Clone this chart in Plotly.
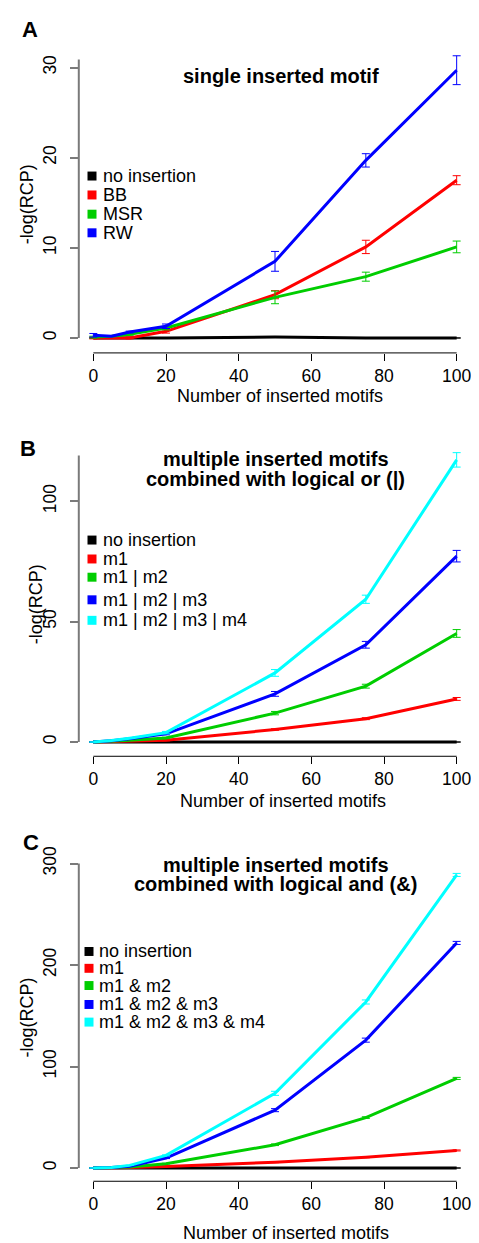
import plotly.graph_objects as go

# page body has an 8px margin: figure origin sits at (8, 8) in the window
OFF = 8
W, H = 471, 1235
FONT = "Liberation Sans, Arial, Helvetica, sans-serif"

x_vals = [0, 5, 10, 20, 50, 75, 100]
x_ticks = [0, 20, 40, 60, 80, 100]

# Panel A
a_names = ["no insertion", "BB", "MSR", "RW"]
a_none = [0, 0, 0, 0, 0.1, 0, 0]
a_bb = [0, 0, 0, 0.74, 4.8, 10.1, 17.5]
a_msr = [0.1, 0.2, 0.4, 1.1, 4.5, 6.8, 10.1]
a_rw = [0.3, 0.2, 0.66, 1.3, 8.5, 19.7, 29.7]
a_none_err = [None] * 7
a_bb_err = [0.1, None, 0.1, 0.2, 0.45, 0.74, 0.5]
a_msr_err = [0.1, None, 0.1, 0.2, 0.7, 0.5, 0.65]
a_rw_err = [0.2, None, 0.1, 0.25, 1.1, 0.74, 1.6]
a_yticks = [0, 10, 20, 30]

# Panel B
b_names = ["no insertion", "m1", "m1 | m2", "m1 | m2 | m3", "m1 | m2 | m3 | m4"]
b_none = [0, 0, 0, 0, 0, 0, 0]
b_m1 = [0, 0.1, 0.3, 0.7, 5.2, 9.7, 17.9]
b_m12 = [0, 0.3, 0.7, 1.7, 12.0, 23.2, 45.1]
b_m123 = [0, 0.5, 1.4, 3.4, 20.0, 40.4, 77.2]
b_m1234 = [0, 0.6, 1.6, 3.9, 28.7, 59.3, 117.2]
b_none_err = [None] * 7
b_m1_err = [None, None, None, 0.2, 0.3, 0.4, 0.6]
b_m12_err = [None, None, None, 0.3, 0.7, 0.8, 1.6]
b_m123_err = [None, None, None, 0.4, 1.0, 1.4, 2.4]
b_m1234_err = [None, None, None, 0.5, 1.4, 1.7, 3.0]
b_yticks = [0, 50, 100]

# Panel C
c_names = ["no insertion", "m1", "m1 & m2", "m1 & m2 & m3", "m1 & m2 & m3 & m4"]
c_none = [0, 0, 0, 0, 0, 0, 0]
c_m1 = [0, 0.1, 0.4, 1.6, 5.6, 10.5, 17.3]
c_m12 = [0, 0.3, 1.0, 4.3, 22.9, 49.7, 88.3]
c_m123 = [0, 0.4, 1.6, 9.8, 57.0, 126.0, 221.8]
c_m1234 = [0, 0.5, 2.6, 12.4, 73.6, 163.6, 288.8]
c_none_err = [None] * 7
c_m1_err = [None, None, None, 0.2, 0.3, 0.4, 0.5]
c_m12_err = [None, None, None, 0.3, 0.8, 0.8, 1.0]
c_m123_err = [None, None, None, 0.5, 1.5, 2.0, 1.5]
c_m1234_err = [None, None, None, 0.5, 2.0, 2.0, 1.5]
c_yticks = [0, 100, 200, 300]

colors = ["#000000", "#FF0000", "#00CD00", "#0000FF", "#00FFFF"]

titles = {
    "A": ["single inserted motif"],
    "B": ["multiple inserted motifs", "combined with logical or (|)"],
    "C": ["multiple inserted motifs", "combined with logical and (&)"],
}

# layout positions, in window pixels
panels = [
    dict(letter="A", names=a_names, ys=[a_none, a_bb, a_msr, a_rw],
         errs=[a_none_err, a_bb_err, a_msr_err, a_rw_err], yticks=a_yticks,
         top_px=40, bot_px=349.3, yr=[-1.657, 32.51], yline_top=30.9,
         letter_xy=(29.8, 24.5), title_xy=[(281.3, 71.5)],
         leg_rows=[171.7, 190.7, 210.0, 228.7], leg_sw_x=92.0, leg_tx=101.0,
         xlab_xy=(279.5, 392.3), ylab_xy=(27.0, 200.0)),
    dict(letter="B", names=b_names, ys=[b_none, b_m1, b_m12, b_m123, b_m1234],
         errs=[b_none_err, b_m1_err, b_m12_err, b_m123_err, b_m1234_err], yticks=b_yticks,
         top_px=440, bot_px=754.3, yr=[-5.92, 124.1], yline_top=119.0,
         letter_xy=(28.3, 445.0), title_xy=[(275.5, 456.0), (275.7, 475.5)],
         leg_rows=[537.2, 556.2, 574.5, 597.2, 617.8], leg_sw_x=92.0, leg_tx=101.0,
         xlab_xy=(282.8, 799.0), ylab_xy=(36.0, 601.7)),
    dict(letter="C", names=c_names, ys=[c_none, c_m1, c_m12, c_m123, c_m1234],
         errs=[c_none_err, c_m1_err, c_m12_err, c_m123_err, c_m1234_err], yticks=c_yticks,
         top_px=850, bot_px=1181.0, yr=[-13.05, 311.8], yline_top=300.0,
         letter_xy=(31.3, 841.3), title_xy=[(275.5, 863.0), (275.8, 882.1)],
         leg_rows=[950.3, 967.2, 984.5, 1003.5, 1021.2], leg_sw_x=89.0, leg_tx=97.3,
         xlab_xy=(286.2, 1232.7), ylab_xy=(27.0, 1016.7)),
]

X_LEFT_PX, X_RIGHT_PX = 78.8, 471.2
X_RANGE = [-4, 104]


def px(x):
    return (x - OFF) / W


def py(y):
    return 1 - (y - OFF) / H


fig = go.Figure()
layout = dict(width=W, height=H, margin=dict(l=0, r=0, t=0, b=0),
              paper_bgcolor="white", plot_bgcolor="white", showlegend=False,
              font=dict(family=FONT, size=18, color="black"))
shapes, annots = [], []

for i, p in enumerate(panels):
    n = "" if i == 0 else str(i + 1)
    xa, ya = "x" + n, "y" + n
    for j, (name, yv, ev) in enumerate(zip(p["names"], p["ys"], p["errs"])):
        fig.add_trace(go.Scatter(
            x=x_vals, y=yv, mode="lines", name=name, xaxis=xa, yaxis=ya,
            line=dict(color=colors[j], width=3),
            error_y=dict(type="data", array=ev, visible=True, color=colors[j],
                         thickness=1, width=4),
            showlegend=False))
    layout["xaxis" + n] = dict(
        domain=[px(X_LEFT_PX), px(X_RIGHT_PX)], range=X_RANGE, anchor=ya,
        tickvals=x_ticks, ticks="outside", ticklen=7, tickwidth=1, tickcolor="black",
        showline=False, showgrid=False, zeroline=False,
        tickfont=dict(family=FONT, size=17.5), ticklabelstandoff=0)
    layout["yaxis" + n] = dict(
        domain=[py(p["bot_px"]), py(p["top_px"])], range=p["yr"], anchor=xa,
        tickvals=p["yticks"], ticks="outside", ticklen=8, tickwidth=2, tickcolor="#7a7a7a",
        tickangle=-90, showline=False, showgrid=False, zeroline=False,
        tickfont=dict(family=FONT, size=17.5), ticklabelstandoff=7)
    # R-style detached axis lines
    shapes.append(dict(type="line", xref=xa, yref=ya + " domain", x0=x_ticks[0], x1=x_ticks[-1],
                       y0=0, y1=0, line=dict(color="black", width=1)))
    shapes.append(dict(type="line", xref=xa + " domain", yref=ya, x0=0, x1=0,
                       y0=p["yticks"][0], y1=p["yline_top"], line=dict(color="#7a7a7a", width=2)))
    # panel letter
    annots.append(dict(text="<b>%s</b>" % p["letter"], x=px(p["letter_xy"][0]), y=py(p["letter_xy"][1]),
                       xref="paper", yref="paper", showarrow=False, xanchor="center", yanchor="middle",
                       font=dict(family=FONT, size=22)))
    for (tx, ty), line in zip(p["title_xy"], titles[p["letter"]]):
        annots.append(dict(text="<b>%s</b>" % line, x=px(tx), y=py(ty), xref="paper", yref="paper",
                           showarrow=False, xanchor="center", yanchor="middle",
                           font=dict(family=FONT, size=20)))
    annots.append(dict(text="Number of inserted motifs", x=px(p["xlab_xy"][0]), y=py(p["xlab_xy"][1]),
                       xref="paper", yref="paper", showarrow=False, xanchor="center", yanchor="middle",
                       font=dict(family=FONT, size=18)))
    annots.append(dict(text="-log(RCP)", x=px(p["ylab_xy"][0]), y=py(p["ylab_xy"][1]), textangle=-90,
                       xref="paper", yref="paper", showarrow=False, xanchor="center", yanchor="middle",
                       font=dict(family=FONT, size=18)))
    # legend
    s = 4.5
    for j, (name, ry) in enumerate(zip(p["names"], p["leg_rows"])):
        shapes.append(dict(type="rect", xref="paper", yref="paper",
                           x0=px(p["leg_sw_x"] - s), x1=px(p["leg_sw_x"] + s),
                           y0=py(ry + s), y1=py(ry - s),
                           fillcolor=colors[j], line=dict(width=0)))
        annots.append(dict(text=name, x=px(p["leg_tx"]), y=py(ry), xref="paper", yref="paper",
                           showarrow=False, xanchor="left", yanchor="middle",
                           font=dict(family=FONT, size=18)))

layout["shapes"] = shapes
layout["annotations"] = annots
fig.update_layout(**layout)
fig.write_html("out.html")
